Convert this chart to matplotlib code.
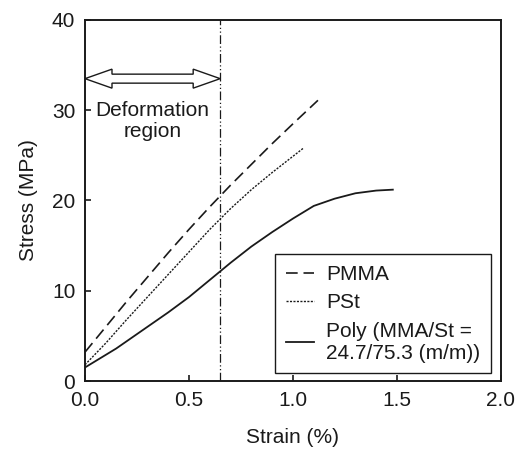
import matplotlib
matplotlib.use("Agg")
import matplotlib.pyplot as plt
from matplotlib.patches import Polygon

plt.rcParams["font.family"] = ["Liberation Sans", "DejaVu Sans"]

INK = "#1a1a1a"

# --- data ---
pmma_x = [0.0, 0.1, 0.2, 0.3, 0.4, 0.5, 0.6, 0.7, 0.8, 0.9, 1.0, 1.12]
pmma_y = [3.2, 6.0, 8.8, 11.5, 14.2, 16.8, 19.3, 21.7, 24.0, 26.3, 28.5, 31.1]

pst_x = [0.0, 0.1, 0.2, 0.3, 0.4, 0.5, 0.6, 0.7, 0.8, 0.9, 1.0, 1.05]
pst_y = [1.8, 4.2, 6.8, 9.3, 11.8, 14.3, 16.8, 19.1, 21.2, 23.1, 24.9, 25.8]

poly_x = [0.0, 0.05, 0.1, 0.15, 0.2, 0.3, 0.4, 0.5, 0.6, 0.7, 0.8, 0.9,
          1.0, 1.1, 1.2, 1.3, 1.4, 1.48]
poly_y = [1.5, 2.2, 2.9, 3.6, 4.4, 6.0, 7.6, 9.3, 11.2, 13.1, 14.9, 16.5,
          18.0, 19.4, 20.2, 20.8, 21.1, 21.2]

deform_limit = 0.65
arrow_y = 33.5

x_ticks = [0.0, 0.5, 1.0, 1.5, 2.0]
y_ticks = [0, 10, 20, 30, 40]

fig = plt.figure(figsize=(5.17, 4.5), dpi=100)
ax = fig.add_axes([0.1644, 0.1533, 0.8046, 0.8023])

ax.plot(pmma_x, pmma_y, color=INK, lw=1.2, dashes=(7, 3.5), label="PMMA")
ax.plot(pst_x, pst_y, color=INK, lw=1.0, dashes=(1.5, 1.0), label="PSt")
ax.plot(poly_x, poly_y, color=INK, lw=1.3, ls="-",
        label="Poly (MMA/St =\n24.7/75.3 (m/m))")

ax.axvline(deform_limit, color=INK, lw=0.9, dashes=(7, 2, 1, 2, 1, 2))

ax.set_xlim(0, 2.0)
ax.set_ylim(0, 40)
ax.set_xticks(x_ticks)
ax.set_xticklabels([f"{v:.1f}" for v in x_ticks])
ax.set_yticks(y_ticks)
ax.tick_params(direction="in", length=4, width=1.2, labelsize=15,
               colors=INK, pad=7)
for s in ax.spines.values():
    s.set_linewidth(1.4)
    s.set_color(INK)

ax.set_xlabel("Strain (%)", fontsize=15, color=INK, labelpad=13)
ax.set_ylabel("Stress (MPa)", fontsize=15, color=INK, labelpad=10)

leg = ax.legend(loc="lower right", bbox_to_anchor=(0.976, 0.022),
                borderaxespad=0, fontsize=15, frameon=True, fancybox=False,
                edgecolor=INK, handlelength=1.35, handletextpad=0.6,
                labelspacing=0.45, borderpad=0.5, framealpha=1)
leg.get_frame().set_linewidth(1.0)
for t in leg.get_texts():
    t.set_color(INK)

# hollow double-headed arrow, built in pixel space
fig.canvas.draw()
x0, yc = ax.transData.transform((0.0, arrow_y))
x1, _ = ax.transData.transform((deform_limit, arrow_y))
head_len, head_hw, shaft_hw = 27, 9.5, 4.5
verts = [
    (x0, yc),
    (x0 + head_len, yc + head_hw),
    (x0 + head_len, yc + shaft_hw),
    (x1 - head_len, yc + shaft_hw),
    (x1 - head_len, yc + head_hw),
    (x1, yc),
    (x1 - head_len, yc - head_hw),
    (x1 - head_len, yc - shaft_hw),
    (x0 + head_len, yc - shaft_hw),
    (x0 + head_len, yc - head_hw),
]
arrow = Polygon(verts, closed=True, transform=None, facecolor="white",
                edgecolor=INK, lw=1.0, zorder=5)
ax.add_artist(arrow)

ax.text(deform_limit / 2, 28.8, "Deformation\nregion", ha="center",
        va="center", fontsize=15, color=INK, linespacing=1.1)

fig.savefig("out.png", dpi=100)
